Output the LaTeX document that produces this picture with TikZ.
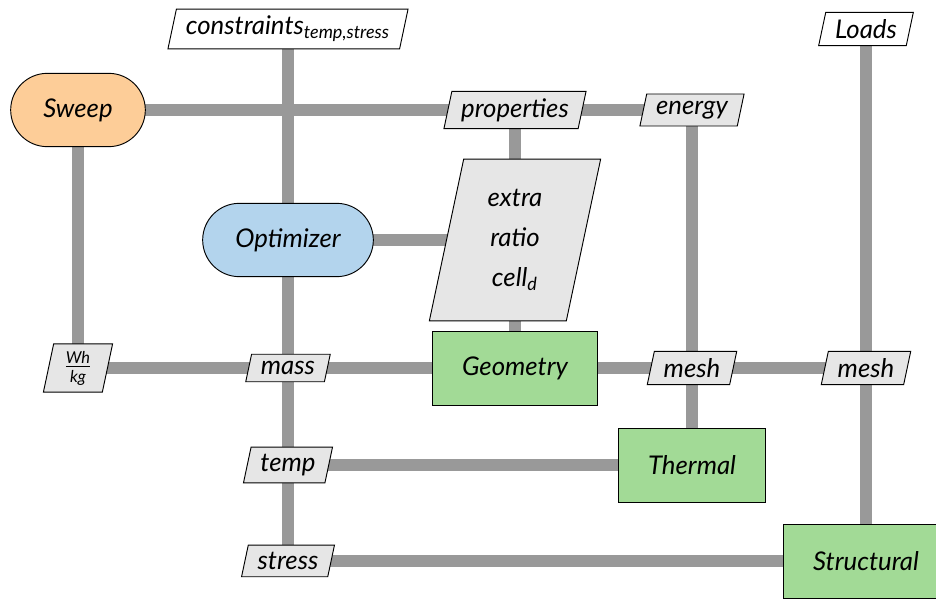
\documentclass[tikz,border=0pt]{standalone}
\usepackage{fontspec}
\setmainfont{Lato}
\usetikzlibrary{shapes.geometric, backgrounds}

\definecolor{sweeporange}{RGB}{253,205,152}
\definecolor{optblue}{RGB}{179,212,237}
\definecolor{funcgreen}{RGB}{162,218,150}
\definecolor{datagray}{RGB}{230,230,230}
\definecolor{conngray}{RGB}{153,153,153}

\begin{document}
\begin{tikzpicture}[
    x=0.015cm, y=-0.015cm,
    font=\fontsize{11}{13}\selectfont\itshape,
    func/.style={draw, rectangle, fill=funcgreen, minimum height=1.11cm, inner xsep=0.44cm},
    driver/.style={draw, rectangle, rounded corners=0.55cm, minimum height=1.1cm, inner xsep=0.49cm},
    data/.style={draw, trapezium, trapezium left angle=78, trapezium right angle=102, fill=datagray, inner xsep=4pt, inner ysep=3pt},
    ext/.style={data, fill=white},
    conn/.style={draw=conngray, line width=0.18cm}
]
\useasboundingbox (0,0) rectangle (936,599);

% Drivers
\node (sweep) [driver, fill=sweeporange] at (78,110) {Sweep};
\node (opt) [driver, fill=optblue] at (288,240) {Optimizer};

% Inputs
\node (cons) [ext] at (288,29) {constraints\textsubscript{temp,stress}};
\node (loads) [ext] at (866,29) {Loads};

% Data
\node (props) [data] at (515,110) {properties};
\node (energy) [data] at (692,110) {energy};
\node (params) [data, align=center, minimum width=2.57cm, minimum height=2.06cm] at (515,240) {extra\\[4pt]ratio\\[4pt]cell\textsubscript{d}};
\node (whkg) [data] at (78,368) {$\frac{\mbox{\scriptsize\itshape Wh}}{\mbox{\scriptsize\itshape kg}}$};
\node (mass) [data] at (288,368) {mass};
\node (mesht) [data] at (692,368) {mesh};
\node (meshs) [data] at (866,368) {mesh};
\node (temp) [data] at (288,465) {temp};
\node (stress) [data] at (288,561) {stress};

% Disciplines
\node (geom) [func] at (515,368) {Geometry};
\node (thermal) [func] at (692,465) {Thermal};
\node (struct) [func] at (866,561) {Structural};

% Connections
\begin{scope}[on background layer]
\draw [conn] (sweep.center) -- (props.center);
\draw [conn] (props.center) -- (energy.center);
\draw [conn] (props.center) -- (params.center);
\draw [conn] (cons.center) -- (opt.center);
\draw [conn] (opt.center) -- (params.center);
\draw [conn] (opt.center) -- (mass.center);
\draw [conn] (mass.center) -- (temp.center);
\draw [conn] (temp.center) -- (stress.center);
\draw [conn] (sweep.center) -- (whkg.center);
\draw [conn] (whkg.center) -- (mass.center);
\draw [conn] (mass.center) -- (geom.center);
\draw [conn] (params.center) -- (geom.center);
\draw [conn] (geom.center) -- (mesht.center);
\draw [conn] (mesht.center) -- (meshs.center);
\draw [conn] (energy.center) -- (mesht.center);
\draw [conn] (mesht.center) -- (thermal.center);
\draw [conn] (loads.center) -- (meshs.center);
\draw [conn] (meshs.center) -- (struct.center);
\draw [conn] (temp.center) -- (thermal.center);
\draw [conn] (stress.center) -- (struct.center);
\end{scope}

\end{tikzpicture}
\end{document}
